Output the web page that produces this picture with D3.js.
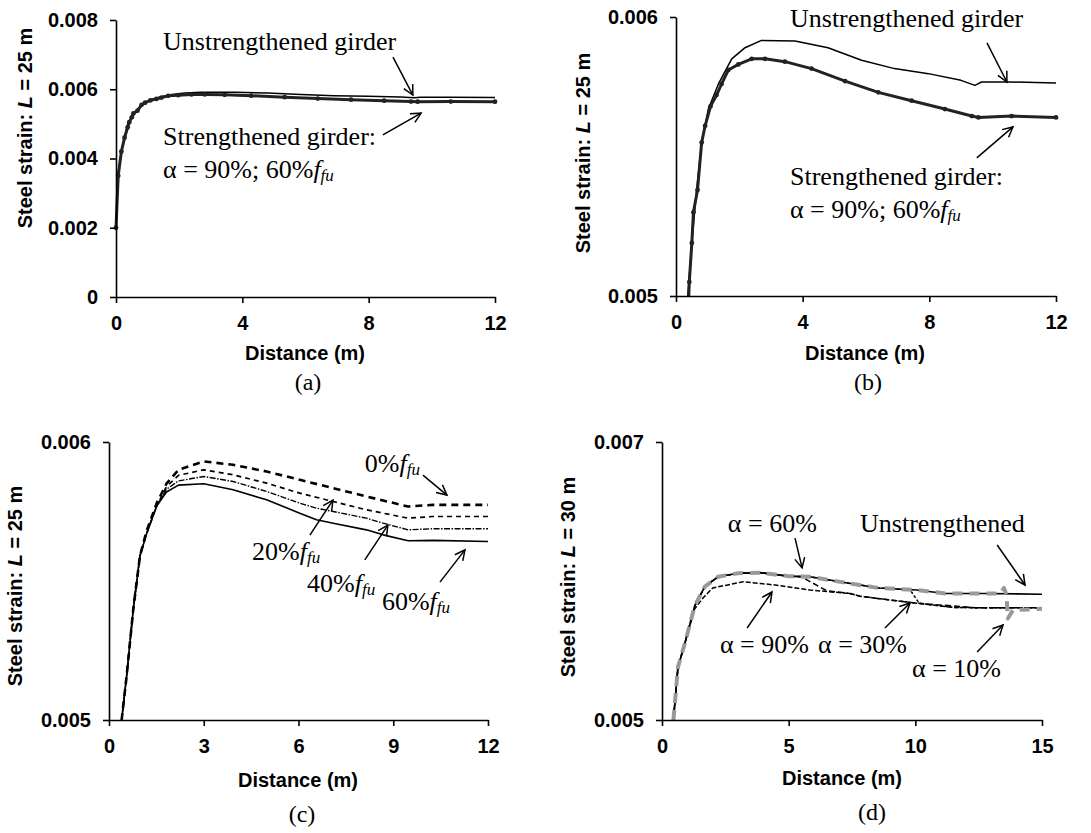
<!DOCTYPE html>
<html>
<head>
<meta charset="utf-8">
<script src="https://cdn.jsdelivr.net/npm/d3@7"></script>
<style>
  body { margin: 0; background: #fff; }
  .tick text { font-family: "Liberation Sans", Arial, sans-serif; font-weight: bold; font-size: 20px; fill: #000; }
  .domain, .tick line { stroke: #000; stroke-width: 1.6px; }
  .note { font-family: "Liberation Serif", "Times New Roman", serif; font-size: 26px; fill: #000; }
  .cap { font-family: "Liberation Serif", "Times New Roman", serif; font-size: 24px; fill: #000; }
  .axt { font-family: "Liberation Sans", Arial, sans-serif; font-weight: bold; font-size: 20px; fill: #000; }
</style>
</head>
<body>
<svg width="1091" height="833"></svg>
<script>
// ---- data: distance (m) vs steel strain ----

// (a),(b): L = 25 m
var abUnstrengthened = [
  [0,0.0020],[0.07,0.0036],[0.17,0.0042],[0.27,0.0046],[0.37,0.0050],[0.5,0.00519],
  [0.65,0.00538],[0.81,0.00555],[1.02,0.00567],[1.34,0.00576],[1.76,0.00585],[2.18,0.00589],
  [2.7,0.005916],[3.76,0.005914],[4.8,0.00589],[5.86,0.005845],[6.9,0.005815],[7.97,0.005797],
  [9.0,0.005773],[9.44,0.005755],[9.65,0.005767],[10.6,0.005767],[12,0.005763]
];
var abStrengthened = [
  [0,0.0020],[0.07,0.0035],[0.17,0.0042],[0.27,0.0046],[0.37,0.0049],[0.42,0.00505],
  [0.5,0.00519],[0.55,0.0053],[0.68,0.00538],[0.81,0.00555],[0.92,0.00561],[1.09,0.00568],
  [1.28,0.00572],[1.44,0.00576],[1.65,0.00581],[1.97,0.00583],[2.39,0.00585],[2.81,0.00585],
  [3.44,0.00584],[4.28,0.005815],[5.34,0.00577],[6.39,0.00573],[7.44,0.0057],[8.49,0.00567],
  [9.34,0.005645],[9.55,0.00564],[10.6,0.005645],[12,0.00564]
];

// (c): CFRP prestress level, L = 25 m
var c0 = [
  [0.4,0.005],[0.56,0.00516],[0.77,0.0054],[0.98,0.00559],[1.19,0.00568],[1.51,0.00578],
  [1.82,0.00585],[2.2,0.0059],[3,0.00593],[3.93,0.005918],[4.99,0.005894],[6.04,0.005864],
  [7.1,0.005834],[8.15,0.005804],[9.47,0.005768],[10.26,0.005774],[12,0.005774]
];
var c20 = [
  [0.4,0.005],[0.56,0.00516],[0.77,0.0054],[0.98,0.00559],[1.19,0.00567],[1.51,0.00577],
  [1.82,0.00584],[2.2,0.00588],[3,0.0059],[3.93,0.005882],[4.99,0.005852],[6.04,0.005816],
  [7.1,0.005786],[8.15,0.005756],[9.47,0.005726],[10.26,0.005732],[12,0.005732]
];
var c40 = [
  [0.4,0.005],[0.56,0.00516],[0.77,0.0054],[0.98,0.00559],[1.19,0.00567],[1.51,0.00577],
  [1.82,0.00583],[2.2,0.00586],[3,0.005876],[3.93,0.005858],[4.99,0.005822],[6.04,0.00578],
  [6.57,0.005762],[7.1,0.00575],[8.15,0.005726],[8.68,0.005708],[9.47,0.005684],
  [10.26,0.005688],[12,0.005688]
];
var c60 = [
  [0.4,0.005],[0.56,0.00516],[0.77,0.0054],[0.98,0.00559],[1.19,0.00567],[1.51,0.00577],
  [1.82,0.00582],[2.2,0.005845],[3,0.00585],[3.93,0.005828],[4.99,0.005792],[6.04,0.005744],
  [6.57,0.00572],[7.1,0.005708],[8.15,0.005684],[8.68,0.005666],[9.47,0.005645],
  [10.26,0.005646],[12,0.005642]
];

// (d): bonded length ratio alpha, L = 30 m
var dUnstrengthened = [
  [0.45,0.005],[0.63,0.00538],[0.9,0.00555],[1.29,0.00582],[1.69,0.00596],[2.21,0.00603],
  [3.0,0.006056],[3.87,0.00606],[4.98,0.006035],[5.84,0.00603],[7.5,0.00598],[8.54,0.00595],
  [10.05,0.005935],[11.18,0.00591],[12.68,0.00591],[15,0.005905]
];
var d90 = [
  [0.45,0.005],[0.63,0.00538],[0.9,0.00555],[1.29,0.0058],[1.63,0.00588],[2.0,0.00595],
  [2.55,0.00597],[3.21,0.005995],[4.53,0.00597],[5.84,0.005935],[7.42,0.00591],[7.82,0.00589],
  [10.05,0.00584],[11.5,0.00581],[12.4,0.005808],[15,0.005808]
];
var d60 = [
  [0.45,0.005],[0.63,0.00538],[0.9,0.00555],[1.29,0.00582],[1.69,0.00596],[2.21,0.00603],
  [3.0,0.006056],[3.87,0.00606],[4.98,0.006035],[5.5,0.00603],[6.0,0.00598],[6.5,0.00593],
  [7.42,0.00591],[7.82,0.00589],[10.05,0.00584],[12.4,0.005808],[15,0.005808]
];
var d30 = [
  [0.45,0.005],[0.63,0.00538],[0.9,0.00555],[1.29,0.00582],[1.69,0.00596],[2.21,0.00603],
  [3.0,0.006056],[3.87,0.00606],[4.98,0.006035],[5.84,0.00603],[7.5,0.00598],[8.54,0.00595],
  [9.8,0.005935],[10.15,0.00584],[11.5,0.00581],[12.4,0.005808],[15,0.005808]
];
var d10 = [
  [0.45,0.005],[0.63,0.00538],[0.9,0.00555],[1.29,0.00582],[1.69,0.00596],[2.21,0.00603],
  [3.0,0.006056],[3.87,0.00606],[4.98,0.006035],[5.84,0.00603],[7.5,0.00598],[8.54,0.00595],
  [10.05,0.005935],[11.18,0.00591],[12.68,0.00591],[13.35,0.00591],[13.5,0.00595],
  [13.6,0.0059],[13.65,0.00573],[13.85,0.00579],[15,0.0058]
];

// ticks
var xTicksAB = [0, 4, 8, 12];
var xTicksC = [0, 3, 6, 9, 12];
var xTicksD = [0, 5, 10, 15];
var yTicksA = [0, 0.002, 0.004, 0.006, 0.008];
var yTicksBC = [0.005, 0.006];
var yTicksD = [0.005, 0.007];

// ---- drawing ----
var svg = d3.select('svg');
var defs = svg.append('defs');

defs.append('marker')
  .attr('id', 'arrowV')
  .attr('markerUnits', 'userSpaceOnUse')
  .attr('viewBox', '0 0 14 14')
  .attr('markerWidth', 14).attr('markerHeight', 14)
  .attr('refX', 12).attr('refY', 7)
  .attr('orient', 'auto')
  .append('path')
  .attr('d', 'M2,2 L12,7 L2,12')
  .attr('fill', 'none').attr('stroke', '#000').attr('stroke-width', 1.5);

var fmt = function(d){ return d === 0 ? '0' : d3.format('.3f')(d); };

var ffu = function(pre){ return [{t: pre}, {t: 'f', i: true}, {t: 'fu', i: true, sub: true}]; };

var panels = [
  {
    id: 'a', box: [116, 495, 20, 297], xDomain: [0, 12], yDomain: [0, 0.008],
    xTicks: xTicksAB, yTicks: yTicksA, span: '25', ylab: [25, 128], xlab: [305, 353], cap: [308, 390],
    series: [
      {data: abUnstrengthened, color: '#000', width: 1.5},
      {data: abStrengthened, color: '#222', width: 3, dots: true}
    ],
    notes: [
      {at: [1.49, 0.00713], lines: [[{t: 'Unstrengthened girder'}]]},
      {at: [1.49, 0.00439], lines: [[{t: 'Strengthened girder:'}], ffu('\u03b1 = 90%; 60%')]}
    ],
    arrows: [[8.77, 0.00693, 9.4, 0.00583], [8.45, 0.00468, 9.66, 0.00531]]
  },
  {
    id: 'b', box: [676, 1056, 17, 296], xDomain: [0, 12], yDomain: [0.005, 0.006],
    xTicks: xTicksAB, yTicks: yTicksBC, span: '25', ylab: [583, 153], xlab: [865, 353], cap: [868, 390],
    series: [
      {data: abUnstrengthened, color: '#000', width: 1.5},
      {data: abStrengthened, color: '#222', width: 3, dots: true}
    ],
    notes: [
      {at: [3.6, 0.005964], lines: [[{t: 'Unstrengthened girder'}]]},
      {at: [3.6, 0.005398], lines: [[{t: 'Strengthened girder:'}], ffu('\u03b1 = 90%; 60%')]}
    ],
    arrows: [[9.82, 0.005907, 10.45, 0.005767], [9.5, 0.005495, 10.64, 0.005606]]
  },
  {
    id: 'c', box: [109, 488, 442, 720], xDomain: [0, 12], yDomain: [0.005, 0.006],
    xTicks: xTicksC, yTicks: yTicksBC, span: '25', ylab: [15, 586], xlab: [298, 780], cap: [302, 822],
    series: [
      {data: c0, color: '#000', width: 2.6, dash: '7,5'},
      {data: c20, color: '#000', width: 1.7, dash: '5,4'},
      {data: c40, color: '#000', width: 1.4, dash: '6,1.5,1.5,1.5'},
      {data: c60, color: '#000', width: 1.6}
    ],
    notes: [
      {at: [8.1, 0.005892], lines: [ffu('0%')]},
      {at: [4.53, 0.005575], lines: [ffu('20%')]},
      {at: [6.27, 0.005462], lines: [ffu('40%')]},
      {at: [8.64, 0.005395], lines: [ffu('60%')]}
    ],
    arrows: [[9.94, 0.005881, 10.7, 0.005809], [6.36, 0.005665, 7.09, 0.005791],
             [8.1, 0.005576, 8.83, 0.005701], [10.48, 0.005496, 11.27, 0.005612]]
  },
  {
    id: 'd', box: [662, 1042, 442, 720], xDomain: [0, 15], yDomain: [0.005, 0.007],
    xTicks: xTicksD, yTicks: yTicksD, span: '30', ylab: [568, 577], xlab: [842, 778], cap: [872, 820],
    series: [
      {data: dUnstrengthened, color: '#000', width: 1.6},
      {data: d90, color: '#000', width: 1.5, dash: '5,2'},
      {data: d60, color: '#000', width: 1.5, dash: '6,3'},
      {data: d30, color: '#000', width: 1.5, dash: '3,2'},
      {data: d10, color: '#999', width: 4, dash: '10,7'}
    ],
    notes: [
      {at: [2.6, 0.006353], lines: [[{t: '\u03b1 = 60%'}]]},
      {at: [7.82, 0.006353], lines: [[{t: 'Unstrengthened'}]]},
      {at: [2.29, 0.005482], lines: [[{t: '\u03b1 = 90%'}]]},
      {at: [6.16, 0.005482], lines: [[{t: '\u03b1 = 30%'}]]},
      {at: [9.87, 0.005309], lines: [[{t: '\u03b1 = 10%'}]]}
    ],
    arrows: [[5.25, 0.006309, 5.53, 0.006094], [13.23, 0.006259, 14.33, 0.005971],
             [3.36, 0.005662, 4.34, 0.005921], [8.8, 0.005662, 9.79, 0.005842],
             [12.44, 0.005489, 13.46, 0.005683]]
  }
];

function writeParts(sel, parts){
  parts.forEach(function(p){
    var ts = sel.append('tspan').text(p.t);
    if (p.i) ts.attr('font-style', 'italic');
    if (p.sub) ts.attr('font-size', '17px').attr('dy', 3);
  });
}

panels.forEach(function(p){
  var x = d3.scaleLinear().domain(p.xDomain).range([p.box[0], p.box[1]]);
  var y = d3.scaleLinear().domain(p.yDomain).range([p.box[3], p.box[2]]);
  var g = svg.append('g').attr('class', 'panel-' + p.id);

  defs.append('clipPath').attr('id', 'clip-' + p.id)
    .append('rect')
    .attr('x', p.box[0] - 4).attr('y', p.box[2] - 4)
    .attr('width', p.box[1] - p.box[0] + 8).attr('height', p.box[3] - p.box[2] + 4);

  var line = d3.line()
    .x(function(d){ return x(d[0]); })
    .y(function(d){ return y(d[1]); });

  var plot = g.append('g').attr('clip-path', 'url(#clip-' + p.id + ')');
  p.series.forEach(function(s){
    plot.append('path')
      .datum(s.data)
      .attr('d', line)
      .attr('fill', 'none')
      .attr('stroke', s.color)
      .attr('stroke-width', s.width)
      .attr('stroke-dasharray', s.dash || null)
      .attr('stroke-linejoin', 'round');
    if (s.dots) {
      plot.selectAll(null)
        .data(s.data)
        .enter().append('circle')
        .attr('cx', function(d){ return x(d[0]); })
        .attr('cy', function(d){ return y(d[1]); })
        .attr('r', 2.4)
        .attr('fill', '#222');
    }
  });

  g.append('g')
    .attr('transform', 'translate(0,' + p.box[3] + ')')
    .call(d3.axisBottom(x).tickValues(p.xTicks).tickSize(6).tickSizeOuter(0).tickPadding(13).tickFormat(d3.format('d')));
  g.append('g')
    .attr('transform', 'translate(' + p.box[0] + ',0)')
    .call(d3.axisLeft(y).tickValues(p.yTicks).tickSize(6).tickSizeOuter(0).tickPadding(12).tickFormat(fmt));

  // axis titles
  var yl = g.append('text').attr('class', 'axt')
    .attr('text-anchor', 'middle')
    .attr('transform', 'translate(' + p.ylab[0] + ',' + p.ylab[1] + ') rotate(-90)')
    .attr('dy', '0.35em');
  writeParts(yl, [{t: 'Steel strain: '}, {t: 'L', i: true}, {t: ' = ' + p.span + ' m'}]);

  g.append('text').attr('class', 'axt')
    .attr('x', p.xlab[0]).attr('y', p.xlab[1]).attr('dy', '0.35em')
    .attr('text-anchor', 'middle')
    .text('Distance (m)');

  g.append('text').attr('class', 'cap')
    .attr('x', p.cap[0]).attr('y', p.cap[1])
    .attr('text-anchor', 'middle')
    .text('(' + p.id + ')');

  // annotations
  p.notes.forEach(function(n){
    n.lines.forEach(function(parts, k){
      var t = g.append('text').attr('class', 'note')
        .attr('x', x(n.at[0]))
        .attr('y', y(n.at[1]) + k * 33);
      writeParts(t, parts);
    });
  });

  g.selectAll(null)
    .data(p.arrows)
    .enter().append('line')
    .attr('x1', function(d){ return x(d[0]); })
    .attr('y1', function(d){ return y(d[1]); })
    .attr('x2', function(d){ return x(d[2]); })
    .attr('y2', function(d){ return y(d[3]); })
    .attr('stroke', '#000')
    .attr('stroke-width', 1.5)
    .attr('marker-end', 'url(#arrowV)');
});
</script>
</body>
</html>
